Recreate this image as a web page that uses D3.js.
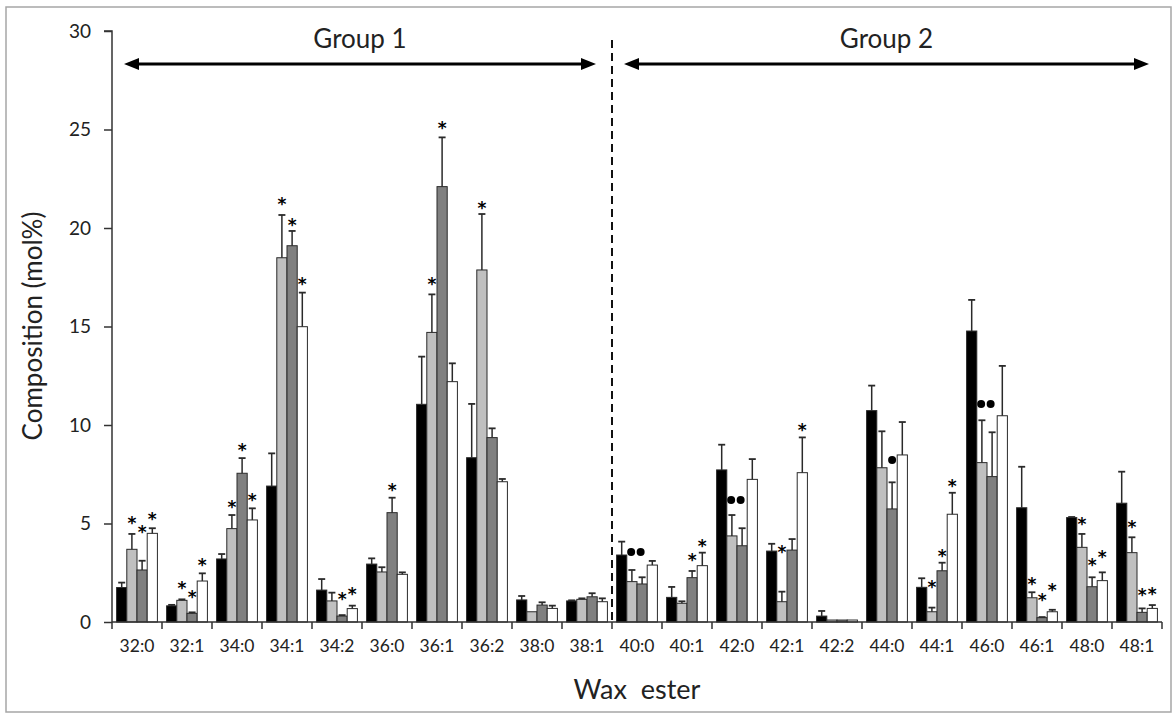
<!DOCTYPE html>
<html>
<head>
<meta charset="utf-8">
<script src="https://cdn.jsdelivr.net/npm/d3@7"></script>
<style>
  html, body { margin: 0; padding: 0; background: #fff; }
  svg { display: block; }
  text { font-family: Lato, "Open Sans", "Liberation Sans", sans-serif; fill: #222; }
</style>
</head>
<body>
<svg id="chart" width="1174" height="715"></svg>
<script>
// ---------- data ----------
const categories = ["32:0","32:1","34:0","34:1","34:2","36:0","36:1","36:2","38:0","38:1",
                    "40:0","40:1","42:0","42:1","42:2","44:0","44:1","46:0","46:1","48:0","48:1"];
const yTicks = [0, 5, 10, 15, 20, 25, 30];

const blackVals = [1.75,0.82,3.2,6.9,1.62,2.94,11.05,8.34,1.12,1.07,3.4,1.25,7.72,3.6,0.3,10.73,1.76,14.77,5.8,5.3,6.03];
const blackErr  = [0.25,0.05,0.25,1.66,0.56,0.29,2.42,2.73,0.2,0.03,0.68,0.53,1.28,0.37,0.26,1.27,0.46,1.58,2.08,0.03,1.6];

const lightVals = [3.69,1.1,4.74,18.49,1.07,2.54,14.7,17.87,0.52,1.15,2.05,0.95,4.37,1.03,0.1,7.83,0.52,8.09,1.23,3.79,3.52];
const lightErr  = [0.78,0.05,0.69,2.17,0.42,0.24,1.93,2.84,0.0,0.05,0.59,0.1,1.06,0.51,0.0,1.85,0.21,2.15,0.28,0.68,0.78];

const darkVals  = [2.64,0.44,7.55,19.1,0.3,5.55,22.1,9.36,0.86,1.28,1.93,2.25,3.87,3.65,0.1,5.74,2.6,7.38,0.22,1.79,0.49];
const darkErr   = [0.47,0.05,0.77,0.75,0.05,0.76,2.5,0.47,0.14,0.18,0.34,0.34,0.89,0.56,0.0,1.35,0.41,2.25,0.03,0.48,0.2];

const whiteVals = [4.5,2.08,5.18,14.99,0.68,2.42,12.2,7.12,0.69,1.03,2.89,2.86,7.24,7.58,0.1,8.48,5.47,10.47,0.52,2.1,0.69];
const whiteErr  = [0.26,0.39,0.59,1.73,0.15,0.1,0.93,0.14,0.14,0.17,0.21,0.66,1.03,1.79,0.0,1.67,1.09,2.53,0.1,0.42,0.17];

// significance marks: [category, series index, symbol, height in mol%]
const marks = [
  ["32:0",1,"*",5.21],["32:0",2,"*",4.76],["32:0",3,"*",5.43],
  ["32:1",1,"*",1.93],["32:1",2,"*",1.46],["32:1",3,"*",3.11],
  ["34:0",1,"*",6.06],["34:0",2,"*",8.93],["34:0",3,"*",6.41],
  ["34:1",1,"*",21.4],["34:1",2,"*",20.37],["34:1",3,"*",17.36],
  ["34:2",2,"*",1.37],["34:2",3,"*",1.62],
  ["36:0",2,"*",6.9],
  ["36:1",1,"*",17.36],["36:1",2,"*",25.26],
  ["36:2",1,"*",21.2],
  ["40:0",1,"●●",3.55],
  ["40:1",2,"*",3.35],["40:1",3,"*",4.08],
  ["42:0",1,"●●",6.19],
  ["42:1",1,"*",3.76],["42:1",3,"*",9.97],
  ["44:0",2,"●",8.22],
  ["44:1",1,"*",2.0],["44:1",2,"*",3.54],["44:1",3,"*",7.09],
  ["46:0",1,"●●",11.07],
  ["46:1",1,"*",2.13],["46:1",2,"*",1.33],["46:1",3,"*",1.83],
  ["48:0",1,"*",5.18],["48:0",2,"*",3.11],["48:0",3,"*",3.52],
  ["48:1",1,"*",5.01],["48:1",2,"*",1.59],["48:1",3,"*",1.62]
];

const groups = [
  { label: "Group 1", from: "32:0", to: "38:1" },
  { label: "Group 2", from: "40:0", to: "48:1" }
];
const dividerAfter = "38:1";

const seriesVals = [blackVals, lightVals, darkVals, whiteVals];
const seriesErr  = [blackErr, lightErr, darkErr, whiteErr];
const seriesFill = ["#000000", "#c0c0c0", "#808080", "#ffffff"];

// ---------- layout ----------
const svg = d3.select("#chart");
const mLeft = 112, mRight = 1162, mTop = 31, mBottom = 622;

svg.append("rect").attr("x", 6).attr("y", 7).attr("width", 1165).attr("height", 705)
  .attr("fill", "none").attr("stroke", "#a6a6a6").attr("stroke-width", 1.5);

const x = d3.scaleBand().domain(categories).range([mLeft, mRight]).paddingInner(0).paddingOuter(0);
const xs = d3.scaleBand().domain([0,1,2,3]).range([0, x.bandwidth()]).paddingInner(0).paddingOuter(0.45);
const y = d3.scaleLinear().domain([0, 30]).range([mBottom, mTop]);

// bars
const g = svg.append("g");
categories.forEach((c, i) => {
  seriesVals.forEach((vals, s) => {
    const v = vals[i], e = seriesErr[s][i];
    const bx = x(c) + xs(s), bw = xs.bandwidth();
    g.append("rect")
      .attr("x", bx).attr("y", y(v))
      .attr("width", bw).attr("height", y(0) - y(v))
      .attr("fill", seriesFill[s]).attr("stroke", "#2a2a2a").attr("stroke-width", 1);
    if (e > 0.02) {
      const cx = bx + bw / 2;
      g.append("line").attr("x1", cx).attr("x2", cx).attr("y1", y(v)).attr("y2", y(v + e))
        .attr("stroke", "#2a2a2a").attr("stroke-width", 1.5);
      g.append("line").attr("x1", cx - 3.5).attr("x2", cx + 3.5).attr("y1", y(v + e)).attr("y2", y(v + e))
        .attr("stroke", "#2a2a2a").attr("stroke-width", 1.8);
    }
  });
});

// significance marks
marks.forEach(([c, s, sym, h]) => {
  const cx = x(c) + xs(s) + xs.bandwidth() / 2;
  const cy = y(h);
  if (sym === "*") {
    svg.append("text").attr("x", cx).attr("y", cy + 10)
      .attr("text-anchor", "middle").attr("font-size", 17).attr("font-weight", "bold")
      .style("font-family", "'DejaVu Sans', sans-serif")
      .style("fill", "#000").text(sym);
  } else {
    const n = sym.length;
    const off = n === 2 ? 4 : 0;
    for (let k = 0; k < n; k++) {
      svg.append("circle")
        .attr("cx", cx + off + (k - (n - 1) / 2) * 9.5).attr("cy", cy)
        .attr("r", 4).attr("fill", "#000");
    }
  }
});

// y axis
const yAxis = d3.axisLeft(y).tickValues(yTicks).tickSize(8).tickPadding(13);
const ya = svg.append("g").attr("transform", `translate(${mLeft},0)`).call(yAxis);
ya.select(".domain").attr("stroke", "#333").attr("stroke-width", 1.5).attr("d", `M-8,${y(30)}H0V${y(0)}`);
ya.selectAll(".tick line").attr("stroke", "#333").attr("stroke-width", 1.5);
ya.selectAll(".tick text").attr("font-size", 19).attr("font-family", "Lato, sans-serif").style("fill", "#222");

// x axis (labels at band centres, ticks at band boundaries)
const xAxis = d3.axisBottom(x).tickSize(0).tickPadding(18);
const xa = svg.append("g").attr("transform", `translate(0,${mBottom})`).call(xAxis);
xa.select(".domain").attr("stroke", "#333").attr("stroke-width", 1.5).attr("d", `M${mLeft},0H${mRight}`);
xa.selectAll(".tick text").attr("font-size", 17.5).attr("font-family", "Lato, sans-serif").style("fill", "#222");
const bounds = categories.map(c => x(c)).concat([x(categories[categories.length - 1]) + x.bandwidth()]);
xa.selectAll(".bt").data(bounds).enter().append("line")
  .attr("x1", d => d).attr("x2", d => d).attr("y1", 0).attr("y2", 7)
  .attr("stroke", "#333").attr("stroke-width", 1.5);

// axis titles
svg.append("text").attr("transform", "translate(42,326) rotate(-90)")
  .attr("text-anchor", "middle").attr("font-size", 26).text("Composition (mol%)");
svg.append("text").attr("x", 637).attr("y", 699).attr("text-anchor", "middle")
  .attr("font-size", 27).attr("xml:space", "preserve").text("Wax  ester");

// divider
const divX = x(dividerAfter) + x.bandwidth();
svg.append("line").attr("x1", divX).attr("x2", divX).attr("y1", 40).attr("y2", mBottom)
  .attr("stroke", "#111").attr("stroke-width", 2).attr("stroke-dasharray", "8,5");

// group arrows
const arrowY = 64;
groups.forEach((gr, i) => {
  const x0 = x(gr.from) + 12;
  const x1 = x(gr.to) + x.bandwidth() - (i === 0 ? 16 : 13);
  svg.append("line").attr("x1", x0 + 10).attr("x2", x1 - 10).attr("y1", arrowY).attr("y2", arrowY)
    .attr("stroke", "#000").attr("stroke-width", 3);
  svg.append("path").attr("d", `M${x0},${arrowY}L${x0 + 15},${arrowY - 6}L${x0 + 15},${arrowY + 6}Z`).attr("fill", "#000");
  svg.append("path").attr("d", `M${x1},${arrowY}L${x1 - 15},${arrowY - 6}L${x1 - 15},${arrowY + 6}Z`).attr("fill", "#000");
  svg.append("text").attr("x", (x0 + x1) / 2).attr("y", 48).attr("text-anchor", "middle")
    .attr("font-size", 26).text(gr.label);
});
</script>
</body>
</html>
